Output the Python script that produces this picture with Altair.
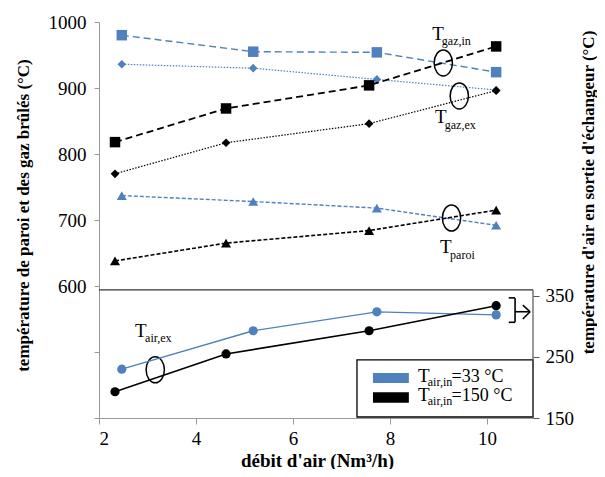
import altair as alt
import pandas as pd

# ---------------- data ----------------
X_33 = [2.47, 5.18, 7.73, 10.19]
X_150 = [2.33, 4.62, 7.57, 10.19]

GAZ_IN_33 = [980, 955, 954, 924]
GAZ_IN_150 = [818, 869, 904, 963]
GAZ_EX_33 = [936, 930, 913, 897]
GAZ_EX_150 = [770, 817, 846, 896]
PAROI_33 = [737, 728, 718, 692]
PAROI_150 = [638, 665, 684, 715]

AIR_EX_33 = [230, 293, 324, 319]
AIR_EX_150 = [193, 255, 293, 334]

X_TICKS = [2, 4, 6, 8, 10]
LEFT_TICKS = [400, 500, 600, 700, 800, 900, 1000]
RIGHT_TICKS = [150, 250, 350]

BLUE = "#4f81bd"
BLACK = "#000000"
FONT = "Liberation Serif"

# annotation anchors (data coordinates, left scale)
ELLIPSE_X = [9.10, 9.43, 9.27, 3.16]
ELLIPSE_Y = [938, 888, 703, 473]

BIG_T_X = [8.87, 8.93, 9.03, 2.74, 8.58, 8.58]
BIG_T_Y = [973, 847, 650, 523, 455, 426]
BIG_T_TEXT = ["T", "T", "T", "T", "T", "T"]
SUB_X = [9.07, 9.13, 9.24, 2.95, 8.78, 8.78]
SUB_Y = [965, 838, 641, 515, 448, 420]
SUB_TEXT = ["gaz,in", "gaz,ex", "paroi", "air,ex", "air,in", "air,in"]
REST_X = [9.27, 9.27]
REST_Y = [455, 426]
REST_TEXT = ["=33 \u00b0C", "=150 \u00b0C"]

LEG_BOX = dict(x=[7.32], x2=[10.95], y=[401.5], y2=[488])
PATCH_X = [7.65, 7.65]
PATCH_X2 = [8.39, 8.39]
PATCH_Y = [453, 423]
PATCH_Y2 = [468, 439]
PATCH_COLOR = [BLUE, BLACK]

SEP_Y = [594]
RIGHT_AXIS_Y = [150]
RIGHT_AXIS_Y2 = [360]

BRACKET_X = [10.58, 10.45, 10.45, 10.58, 10.89, 10.89]
BRACKET_X2 = [10.58, 10.58, 10.58, 10.89, 10.74, 10.74]
BRACKET_Y = [545, 582, 545, 561, 561, 561]
BRACKET_Y2 = [582, 582, 545, 561, 571, 550]

# ---------------- scales / axes ----------------
XSCALE = alt.Scale(domain=[2, 10.95], nice=False, zero=False)
LSCALE = alt.Scale(domain=[400, 1000], nice=False, zero=False)
RSCALE = alt.Scale(domain=[150, 799], nice=False, zero=False)

X_AXIS = alt.Axis(values=X_TICKS, format="d", grid=False, domainColor="#999999",
                  tickColor="#999999", tickSize=6, labelFont=FONT, labelFontSize=19,
                  labelColor="black", labelPadding=5, title="débit d'air (Nm³/h)",
                  titleFont=FONT, titleFontSize=19, titleFontWeight="bold",
                  titleColor="black", titleX=218, titleY=42, titleBaseline="middle")
LEFT_AXIS = alt.Axis(values=LEFT_TICKS, format="d",
                     labelExpr="datum.value >= 600 ? datum.label : ''",
                     grid=False, domainColor="#999999", tickColor="#999999", tickSize=5,
                     labelFont=FONT, labelFontSize=19, labelColor="black", labelPadding=8,
                     title="température de paroi et des gaz brûlés (°C)", titleFont=FONT,
                     titleFontSize=17, titleFontWeight="bold", titleColor="black",
                     titleAngle=270, titleX=-76, titleY=193, titleAlign="center",
                     titleBaseline="middle")
RIGHT_AXIS = alt.Axis(values=RIGHT_TICKS, format="d", orient="right", domain=False,
                      grid=False, tickColor="#555555", tickSize=6, labelFont=FONT,
                      labelFontSize=19, labelColor="black", labelPadding=6,
                      title="température d'air en sortie d'échangeur (°C)", titleFont=FONT,
                      titleFontSize=17, titleFontWeight="bold", titleColor="black",
                      titleAngle=270, titleX=55, titleY=170, titleAlign="center",
                      titleBaseline="middle")


def xe(field="x"):
    return alt.X(field, type="quantitative", scale=XSCALE, axis=X_AXIS)


def ly(field="y"):
    return alt.Y(field, type="quantitative", scale=LSCALE, axis=LEFT_AXIS)


def ry(field="y"):
    return alt.Y(field, type="quantitative", scale=RSCALE, axis=RIGHT_AXIS)


def series(xs, ys, color, shape, size, dash, sw, yenc):
    df = pd.DataFrame({"x": xs, "y": ys})
    line_kwargs = dict(color=color, strokeWidth=sw)
    if dash:
        line_kwargs["strokeDash"] = dash
    line = alt.Chart(df).mark_line(**line_kwargs).encode(x=xe(), y=yenc())
    pts = alt.Chart(df).mark_point(shape=shape, filled=True, color=color, size=size,
                                   opacity=1).encode(x=xe(), y=yenc())
    return [line, pts]


left_layers = []
left_layers += series(X_33, GAZ_IN_33, BLUE, "square", 110, [7, 4], 1.4, ly)
left_layers += series(X_33, GAZ_EX_33, BLUE, "diamond", 75, [1.5, 1.5], 1.2, ly)
left_layers += series(X_33, PAROI_33, BLUE, "triangle-up", 100, [4, 2], 1.4, ly)
left_layers += series(X_150, GAZ_IN_150, BLACK, "square", 110, [7, 4], 1.8, ly)
left_layers += series(X_150, GAZ_EX_150, BLACK, "diamond", 75, [1.5, 1.5], 1.2, ly)
left_layers += series(X_150, PAROI_150, BLACK, "triangle-up", 100, [4, 2], 1.6, ly)

# separator line between the two panels
left_layers.append(
    alt.Chart(pd.DataFrame({"y": SEP_Y})).mark_rule(color="#333333", strokeWidth=1.3).encode(
        x=alt.value(0), x2=alt.value(434), y=ly()))

# ellipses
ELLIPSE = "M0,-1A0.7,1 0 1,1 0,1A0.7,1 0 1,1 0,-1Z"
left_layers.append(
    alt.Chart(pd.DataFrame({"x": ELLIPSE_X, "y": ELLIPSE_Y})).mark_point(
        shape=ELLIPSE, size=680, filled=False, color="black", strokeWidth=1.5, opacity=1
    ).encode(x=xe(), y=ly()))

# legend box
left_layers.append(
    alt.Chart(pd.DataFrame(LEG_BOX)).mark_rect(fill="white", stroke="black", strokeWidth=1.3).encode(
        x=xe(), x2="x2", y=ly(), y2="y2"))
left_layers.append(
    alt.Chart(pd.DataFrame({"x": PATCH_X, "x2": PATCH_X2, "y": PATCH_Y, "y2": PATCH_Y2,
                            "c": PATCH_COLOR})).mark_rect().encode(
        x=xe(), x2="x2", y=ly(), y2="y2", color=alt.Color("c:N", scale=None)))

# texts
left_layers.append(
    alt.Chart(pd.DataFrame({"x": BIG_T_X, "y": BIG_T_Y, "t": BIG_T_TEXT})).mark_text(
        font=FONT, fontSize=19, align="left", baseline="alphabetic", color="black").encode(
        x=xe(), y=ly(), text="t:N"))
left_layers.append(
    alt.Chart(pd.DataFrame({"x": SUB_X, "y": SUB_Y, "t": SUB_TEXT})).mark_text(
        font=FONT, fontSize=12, align="left", baseline="alphabetic", color="black").encode(
        x=xe(), y=ly(), text="t:N"))
left_layers.append(
    alt.Chart(pd.DataFrame({"x": REST_X, "y": REST_Y, "t": REST_TEXT})).mark_text(
        font=FONT, fontSize=18, align="left", baseline="alphabetic", color="black").encode(
        x=xe(), y=ly(), text="t:N"))

# bracket with arrow
left_layers.append(
    alt.Chart(pd.DataFrame({"x": BRACKET_X, "x2": BRACKET_X2, "y": BRACKET_Y,
                            "y2": BRACKET_Y2})).mark_rule(color="black", strokeWidth=1.6).encode(
        x=xe(), x2="x2", y=ly(), y2="y2"))

right_layers = []
right_layers += series(X_33, AIR_EX_33, BLUE, "circle", 85, None, 1.4, ry)
right_layers += series(X_150, AIR_EX_150, BLACK, "circle", 85, None, 1.6, ry)
right_layers.append(
    alt.Chart(pd.DataFrame({"y": RIGHT_AXIS_Y, "y2": RIGHT_AXIS_Y2})).mark_rule(
        color="#555555", strokeWidth=1.2).encode(x=alt.value(434), y=ry(), y2="y2"))

chart = alt.layer(alt.layer(*left_layers), alt.layer(*right_layers)).resolve_scale(
    y="independent"
).properties(
    width=434, height=396,
    autosize=alt.AutoSizeParams(type="none"),
    padding={"left": 91, "top": 14, "right": 64, "bottom": 51},
    background="white",
).configure_view(stroke=None).configure_axis(
    labelFont=FONT, titleFont=FONT, labelFontSize=19
).configure_text(font=FONT)

chart.save("out.html", embed_options={"renderer": "svg", "actions": False})
